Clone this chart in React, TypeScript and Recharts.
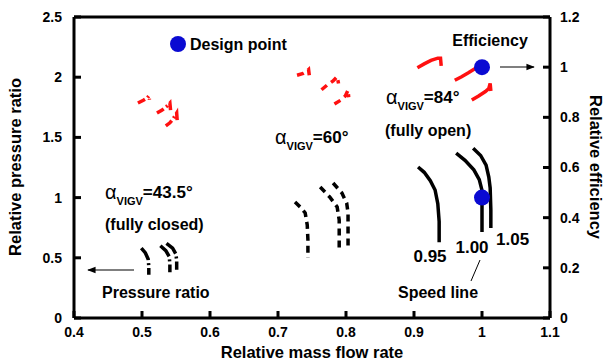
import { ComposedChart, Line, XAxis, YAxis, ReferenceDot } from 'recharts';

// --- data (mass flow, pressure ratio / efficiency) ---
// alpha_VIGV = 84 deg (fully open)
const FLOW_84_095 = [0.906, 0.915, 0.924, 0.931, 0.935, 0.937, 0.937];
const PR_84_095 = [1.254, 1.21, 1.14, 1.063, 0.95, 0.8, 0.63];
const FLOW_84_100 = [0.962, 0.975, 0.988, 0.996, 1.0, 1.0, 1.0];
const PR_84_100 = [1.37, 1.31, 1.23, 1.15, 1.06, 0.9, 0.714];
const FLOW_84_105 = [0.987, 0.998, 1.006, 1.01, 1.012, 1.013, 1.013];
const PR_84_105 = [1.41, 1.35, 1.27, 1.17, 1.08, 0.9, 0.748];

const EFLOW_84_095 = [0.905, 0.915, 0.925, 0.935, 0.939, 0.94];
const EFF_84_095 = [0.998, 1.013, 1.027, 1.036, 1.036, 1.005];
const EFLOW_84_100 = [0.96, 0.97, 0.98, 0.99, 0.998, 1.0];
const EFF_84_100 = [0.948, 0.962, 0.978, 0.995, 1.005, 0.99];
const EFLOW_84_105 = [0.985, 0.995, 1.005, 1.01, 1.012, 1.013];
const EFF_84_105 = [0.869, 0.885, 0.903, 0.915, 0.935, 0.905];

// alpha_VIGV = 60 deg
const FLOW_60_095 = [0.725, 0.733, 0.74, 0.743, 0.744, 0.744];
const PR_60_095 = [0.963, 0.92, 0.872, 0.772, 0.65, 0.498];
const FLOW_60_100 = [0.762, 0.776, 0.787, 0.79, 0.79, 0.79];
const PR_60_100 = [1.088, 1.005, 0.922, 0.814, 0.7, 0.565];
const FLOW_60_105 = [0.781, 0.794, 0.801, 0.803, 0.803, 0.803];
const PR_60_105 = [1.121, 1.038, 0.955, 0.872, 0.75, 0.581];

const EFLOW_60_095 = [0.728, 0.737, 0.743, 0.745, 0.746];
const EFF_60_095 = [0.968, 0.975, 0.985, 0.99, 0.968];
const EFLOW_60_100 = [0.764, 0.772, 0.781, 0.787, 0.789];
const EFF_60_100 = [0.91, 0.928, 0.945, 0.962, 0.935];
const EFLOW_60_105 = [0.783, 0.792, 0.799, 0.803, 0.804];
const EFF_60_105 = [0.853, 0.868, 0.885, 0.908, 0.88];

// alpha_VIGV = 43.5 deg (fully closed)
const FLOW_43_095 = [0.499, 0.505, 0.509, 0.51, 0.51];
const PR_43_095 = [0.58, 0.54, 0.49, 0.43, 0.36];
const FLOW_43_100 = [0.527, 0.535, 0.54, 0.541, 0.541];
const PR_43_100 = [0.6, 0.56, 0.51, 0.45, 0.38];
const FLOW_43_105 = [0.536, 0.545, 0.55, 0.551, 0.551];
const PR_43_105 = [0.62, 0.58, 0.53, 0.47, 0.4];

const EFLOW_43_095 = [0.494, 0.502, 0.508, 0.51, 0.511];
const EFF_43_095 = [0.857, 0.868, 0.878, 0.885, 0.87];
const EFLOW_43_100 = [0.522, 0.529, 0.536, 0.541, 0.542];
const EFF_43_100 = [0.817, 0.828, 0.843, 0.857, 0.829];
const EFLOW_43_105 = [0.535, 0.541, 0.546, 0.551, 0.552];
const EFF_43_105 = [0.766, 0.778, 0.795, 0.817, 0.778];

const DESIGN_FLOW = 1.0;
const DESIGN_PR = 1.0;
const DESIGN_EFF = 1.0;

const X_TICKS = [0.4, 0.5, 0.6, 0.7, 0.8, 0.9, 1.0, 1.1];
const PR_TICKS = [0, 0.5, 1, 1.5, 2, 2.5];
const EFF_TICKS = [0, 0.2, 0.4, 0.6, 0.8, 1.0, 1.2];

const FONT = '"Liberation Sans", Arial, sans-serif';
const BLUE = '#0a0ad2';
const RED = '#ff1010';

const pts = (xs: number[], ys: number[]) => xs.map((x, i) => ({ x, v: ys[i] }));

const series = [
  { id: 'p84a', data: pts(FLOW_84_095, PR_84_095), axis: 'pr', color: '#000', dash: undefined },
  { id: 'p84b', data: pts(FLOW_84_100, PR_84_100), axis: 'pr', color: '#000', dash: undefined },
  { id: 'p84c', data: pts(FLOW_84_105, PR_84_105), axis: 'pr', color: '#000', dash: undefined },
  { id: 'e84a', data: pts(EFLOW_84_095, EFF_84_095), axis: 'eff', color: RED, dash: undefined },
  { id: 'e84b', data: pts(EFLOW_84_100, EFF_84_100), axis: 'eff', color: RED, dash: undefined },
  { id: 'e84c', data: pts(EFLOW_84_105, EFF_84_105), axis: 'eff', color: RED, dash: undefined },
  { id: 'p60a', data: pts(FLOW_60_095, PR_60_095), axis: 'pr', color: '#000', dash: '7 5' },
  { id: 'p60b', data: pts(FLOW_60_100, PR_60_100), axis: 'pr', color: '#000', dash: '7 5' },
  { id: 'p60c', data: pts(FLOW_60_105, PR_60_105), axis: 'pr', color: '#000', dash: '7 5' },
  { id: 'e60a', data: pts(EFLOW_60_095, EFF_60_095), axis: 'eff', color: RED, dash: '7 5' },
  { id: 'e60b', data: pts(EFLOW_60_100, EFF_60_100), axis: 'eff', color: RED, dash: '7 5' },
  { id: 'e60c', data: pts(EFLOW_60_105, EFF_60_105), axis: 'eff', color: RED, dash: '7 5' },
  { id: 'p43a', data: pts(FLOW_43_095, PR_43_095), axis: 'pr', color: '#000', dash: '14 3 2 3' },
  { id: 'p43b', data: pts(FLOW_43_100, PR_43_100), axis: 'pr', color: '#000', dash: '14 3 2 3' },
  { id: 'p43c', data: pts(FLOW_43_105, PR_43_105), axis: 'pr', color: '#000', dash: '14 3 2 3' },
  { id: 'e43a', data: pts(EFLOW_43_095, EFF_43_095), axis: 'eff', color: RED, dash: '8 3 2 3' },
  { id: 'e43b', data: pts(EFLOW_43_100, EFF_43_100), axis: 'eff', color: RED, dash: '8 3 2 3' },
  { id: 'e43c', data: pts(EFLOW_43_105, EFF_43_105), axis: 'eff', color: RED, dash: '8 3 2 3' },
];

const fmt = (v: number) => String(Math.round(v * 10) / 10);
const tickStyle = { fill: '#000', fontSize: 14, fontWeight: 700, fontFamily: FONT };
const axisLine = { stroke: '#000', strokeWidth: 3 };
const tickLine = { stroke: '#000', strokeWidth: 3 };

function Alpha({ x, y, value }: { x: number; y: number; value: string }) {
  return (
    <text x={x} y={y} fontFamily={FONT} fill="#000">
      <tspan fontSize={20}>α</tspan>
      <tspan fontSize={11} fontWeight={700} dy={6}>VIGV</tspan>
      <tspan fontSize={17} fontWeight={700} dy={-7}>={value}°</tspan>
    </text>
  );
}

export default function App() {
  return (
    <div style={{ position: 'absolute', left: 0, top: 0, width: 606, height: 364, background: '#fff' }}>
      <ComposedChart width={606} height={364} margin={{ top: 16, right: 16, bottom: 0, left: 34 }}>
        <XAxis
          xAxisId="bottom"
          dataKey="x"
          type="number"
          domain={[0.4, 1.1]}
          ticks={X_TICKS}
          tickFormatter={fmt}
          allowDataOverflow
          height={46}
          axisLine={axisLine}
          tickLine={tickLine}
          tickSize={-7}
          tickMargin={16}
          tick={tickStyle}
        />
        <XAxis
          xAxisId="top"
          orientation="top"
          dataKey="x"
          type="number"
          domain={[0.4, 1.1]}
          ticks={X_TICKS}
          tickFormatter={() => ''}
          height={1}
          axisLine={axisLine}
          tickLine={tickLine}
          tickSize={-7}
        />
        <YAxis
          yAxisId="pr"
          type="number"
          domain={[0, 2.5]}
          ticks={PR_TICKS}
          tickFormatter={fmt}
          width={40}
          axisLine={axisLine}
          tickLine={tickLine}
          tickSize={-7}
          tickMargin={19}
          tick={tickStyle}
        />
        <YAxis
          yAxisId="eff"
          orientation="right"
          type="number"
          domain={[0, 1.2]}
          ticks={EFF_TICKS}
          tickFormatter={fmt}
          width={40}
          axisLine={axisLine}
          tickLine={tickLine}
          tickSize={-7}
          tickMargin={17}
          tick={{ ...tickStyle, textAnchor: 'start' }}
        />
        {series.map((s) => (
          <Line
            key={s.id}
            data={s.data}
            dataKey="v"
            xAxisId="bottom"
            yAxisId={s.axis}
            type="linear"
            stroke={s.color}
            strokeWidth={3.5}
            strokeDasharray={s.dash}
            dot={false}
            activeDot={false}
            isAnimationActive={false}
          />
        ))}
        <ReferenceDot xAxisId="bottom" yAxisId="pr" x={DESIGN_FLOW} y={DESIGN_PR} r={8} fill={BLUE} stroke="none" />
        <ReferenceDot xAxisId="bottom" yAxisId="eff" x={DESIGN_FLOW} y={DESIGN_EFF} r={8} fill={BLUE} stroke="none" />
      </ComposedChart>

      <svg width={606} height={364} style={{ position: 'absolute', left: 0, top: 0, pointerEvents: 'none' }}>
        <defs>
          <marker id="arr" viewBox="0 0 10 10" refX="9" refY="5" markerWidth="7" markerHeight="7" orient="auto-start-reverse">
            <path d="M0,1 L10,5 L0,9 z" fill="#000" />
          </marker>
        </defs>
        <text x={17} y={167} transform="rotate(-90 17 167)" textAnchor="middle" fontFamily={FONT} fontWeight={700} fontSize={16.5} dominantBaseline="middle">
          Relative pressure ratio
        </text>
        <text x={594} y={167} transform="rotate(90 594 167)" textAnchor="middle" fontFamily={FONT} fontWeight={700} fontSize={16.5} dominantBaseline="middle">
          Relative efficiency
        </text>
        <text x={312} y={358} textAnchor="middle" fontFamily={FONT} fontWeight={700} fontSize={16.5}>
          Relative mass flow rate
        </text>

        <circle cx={178} cy={44} r={8} fill={BLUE} />
        <text x={190} y={50} fontFamily={FONT} fontWeight={700} fontSize={16}>Design point</text>

        <text x={490} y={46} textAnchor="middle" fontFamily={FONT} fontWeight={700} fontSize={16}>Efficiency</text>
        <line x1={500} y1={67} x2={534} y2={67} stroke="#000" strokeWidth={1.2} markerEnd="url(#arr)" />

        <Alpha x={386} y={104} value="84" />
        <text x={385} y={136} fontFamily={FONT} fontWeight={700} fontSize={16}>(fully open)</text>

        <Alpha x={275} y={144} value="60" />

        <Alpha x={105} y={199} value="43.5" />
        <text x={105} y={230} fontFamily={FONT} fontWeight={700} fontSize={16}>(fully closed)</text>

        <line x1={134} y1={270} x2={88} y2={270} stroke="#000" strokeWidth={1.2} markerEnd="url(#arr)" />
        <text x={102} y={298} fontFamily={FONT} fontWeight={700} fontSize={16}>Pressure ratio</text>

        <text x={430} y={262} textAnchor="middle" fontFamily={FONT} fontWeight={700} fontSize={17}>0.95</text>
        <text x={472} y={253} textAnchor="middle" fontFamily={FONT} fontWeight={700} fontSize={17}>1.00</text>
        <text x={496} y={245} fontFamily={FONT} fontWeight={700} fontSize={17}>1.05</text>
        <line x1={480} y1={260} x2={471} y2={281} stroke="#000" strokeWidth={1} />
        <text x={398} y={298} fontFamily={FONT} fontWeight={700} fontSize={16}>Speed line</text>
      </svg>
    </div>
  );
}
